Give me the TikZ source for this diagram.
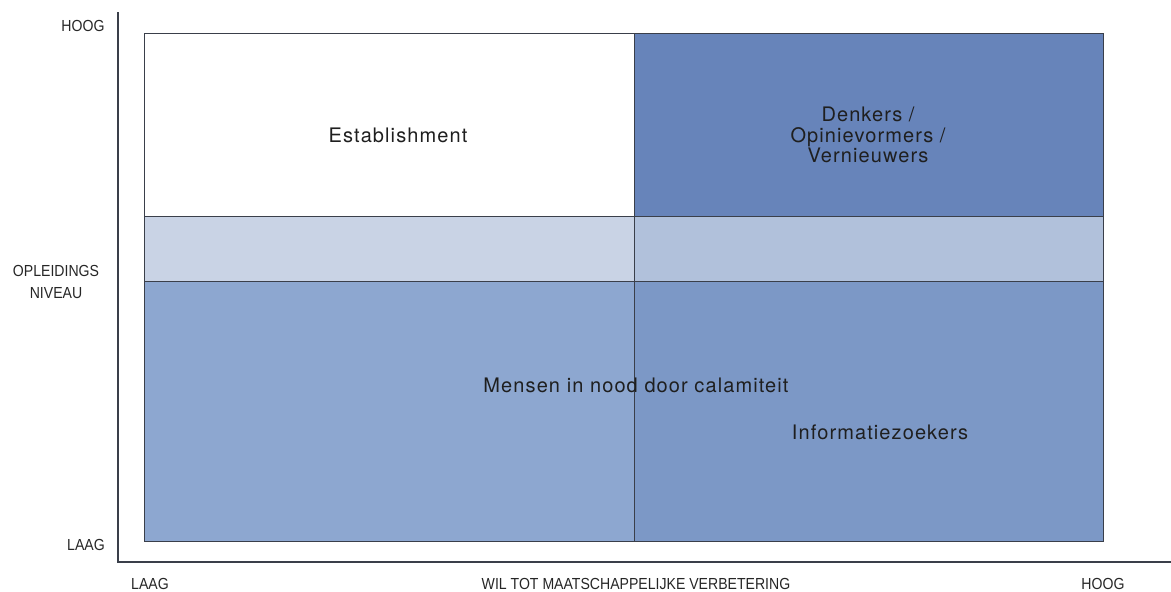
\documentclass[tikz,border=0pt]{standalone}
\usepackage{fontspec}
\setmainfont{Liberation Sans}
\newfontfamily\cellfont[LetterSpace=5.5]{TeX Gyre Heros}
\usepackage{tikz}
\usetikzlibrary{positioning}
\definecolor{cellwhite}{HTML}{FFFFFF}
\definecolor{celltop}{HTML}{6784BA}
\definecolor{midleft}{HTML}{C9D3E5}
\definecolor{midright}{HTML}{B1C1DB}
\definecolor{lowleft}{HTML}{8DA7D0}
\definecolor{lowright}{HTML}{7C98C6}
\definecolor{edgegrey}{HTML}{3A3F4A}

\begin{document}
\begin{tikzpicture}[x=1pt,y=-1pt,
    cell/.style={draw=edgegrey, line width=0.9pt},
    celltext/.style={font=\cellfont\fontsize{20}{20.5}\selectfont, text=black!88, align=center, inner sep=0pt},
    axistext/.style={font=\fontsize{16}{22}\selectfont, text=black!85, align=center, inner sep=0pt, xscale=0.88}]
    \useasboundingbox (0,0) rectangle (1171,592);
    % cells
    \draw[cell, fill=cellwhite] (144,33) rectangle (634,216);
    \draw[cell, fill=celltop] (634,33) rectangle (1103,216);
    \draw[cell, fill=midleft] (144,216) rectangle (634,281);
    \draw[cell, fill=midright] (634,216) rectangle (1103,281);
    \draw[cell, fill=lowleft] (144,281) rectangle (634,541);
    \draw[cell, fill=lowright] (634,281) rectangle (1103,541);
    \draw[cell] (634,33) -- (634,541);
    % labels in the cells
    \node[celltext] (estab) at (398,135) {Establishment};
    \node[celltext] (denkers) at (868,135) {Denkers /\\ Opinievormers /\\ Vernieuwers};
    \node[celltext] (nood) at (636,385) {Mensen in nood door calamiteit};
    \node[celltext] (info) at (880,432) {Informatiezoekers};
    % axes
    \coordinate (origin) at (118,562);
    \coordinate (ytop) at (118,12);
    \coordinate (xend) at (1171,562);
    \draw[line width=1.3pt, edgegrey] (ytop) -- (origin) -- (xend);
    \node[axistext] (yhigh) at (83,26) {HOOG};
    \node[axistext] (ylabel) at (56,282) {OPLEIDINGS\\ NIVEAU};
    \node[axistext] (ylow) at (86,545) {LAAG};
    \node[axistext] (xlow) at (150,584) {LAAG};
    \node[axistext] (xlabel) at (636,584) {WIL TOT MAATSCHAPPELIJKE VERBETERING};
    \node[axistext] (xhigh) at (1103,584) {HOOG};
\end{tikzpicture}
\end{document}
